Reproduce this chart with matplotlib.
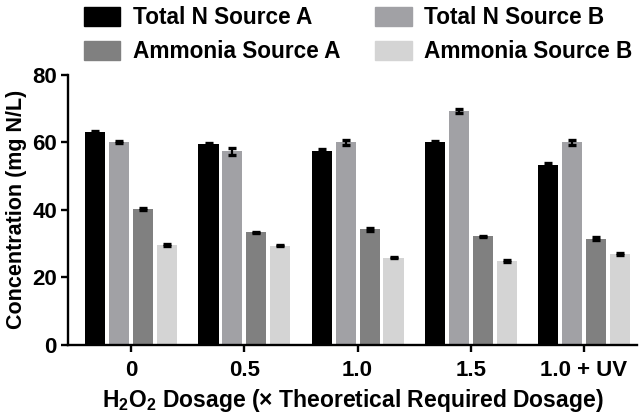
import matplotlib
matplotlib.use('Agg')
import matplotlib.pyplot as plt
import numpy as np
from matplotlib.patches import Patch

plt.rcParams['font.family'] = ['Liberation Sans', 'DejaVu Sans']
plt.rcParams['font.weight'] = 'bold'
plt.rcParams['mathtext.fontset'] = 'custom'
plt.rcParams['mathtext.rm'] = 'Liberation Sans:bold'
plt.rcParams['mathtext.bf'] = 'Liberation Sans:bold'

dosages = ['0', '0.5', '1.0', '1.5', '1.0 + UV']
series = ['Total N Source A', 'Total N Source B', 'Ammonia Source A', 'Ammonia Source B']
colors = ['#000000', '#a1a1a5', '#808080', '#d4d4d4']

total_a = [63.0, 59.5, 57.3, 60.0, 53.3]
total_b = [60.0, 57.3, 60.0, 69.3, 60.0]
ammonia_a = [40.3, 33.3, 34.2, 32.2, 31.5]
ammonia_b = [29.5, 29.4, 25.8, 24.8, 27.0]

err_total_a = [0.3, 0.3, 0.7, 0.4, 0.7]
err_total_b = [0.3, 0.9, 0.7, 0.6, 0.8]
err_ammonia_a = [0.4, 0.2, 0.4, 0.2, 0.5]
err_ammonia_b = [0.3, 0.2, 0.2, 0.2, 0.3]

values = [total_a, total_b, ammonia_a, ammonia_b]
errors = [err_total_a, err_total_b, err_ammonia_a, err_ammonia_b]

fig = plt.figure(figsize=(6.42, 4.16), dpi=100)
ax = fig.add_axes([0.106, 0.171, 0.886, 0.649])

x = np.arange(len(dosages))
step = 0.212
width = 0.177
for i, (vals, errs, c) in enumerate(zip(values, errors, colors)):
    ax.bar(x + (i - 1.5) * step, vals, width, color=c, zorder=2)
    ax.errorbar(x + (i - 1.5) * step, vals, yerr=errs, fmt='none', ecolor='black',
                elinewidth=1.6, capsize=3, capthick=2.4, zorder=3)

ax.set_xlim(-0.56, 4.47)
ax.set_ylim(0, 80)
ax.set_yticks([0, 20, 40, 60, 80])
ax.set_xticks(x)
ax.set_xticklabels(dosages)

for s in ['top', 'right']:
    ax.spines[s].set_visible(False)
for s in ['left', 'bottom']:
    ax.spines[s].set_linewidth(1.7)
ax.tick_params(axis='both', length=5, width=1.7, labelsize=16, pad=3)
ax.tick_params(axis='x', pad=6)

ax.set_ylabel('Concentration (mg N/L)', fontsize=15.5, fontweight='bold', labelpad=4)
ax.set_xlabel(r'H$_2$O$_2$ Dosage (× Theoretical Required Dosage)', fontsize=16.5,
              fontweight='bold', labelpad=4)

order = [0, 2, 1, 3]
handles = [Patch(color=colors[k]) for k in order]
labels = [series[k] for k in order]
fig.legend(handles, labels, ncol=2, frameon=False, loc='upper left',
           bbox_to_anchor=(0.127, 0.99), fontsize=16.3, handlelength=1.62,
           handleheight=0.95, handletextpad=0.57, columnspacing=1.5,
           labelspacing=0.48, borderpad=0.1, borderaxespad=0)

fig.savefig('out.png', dpi=100)
